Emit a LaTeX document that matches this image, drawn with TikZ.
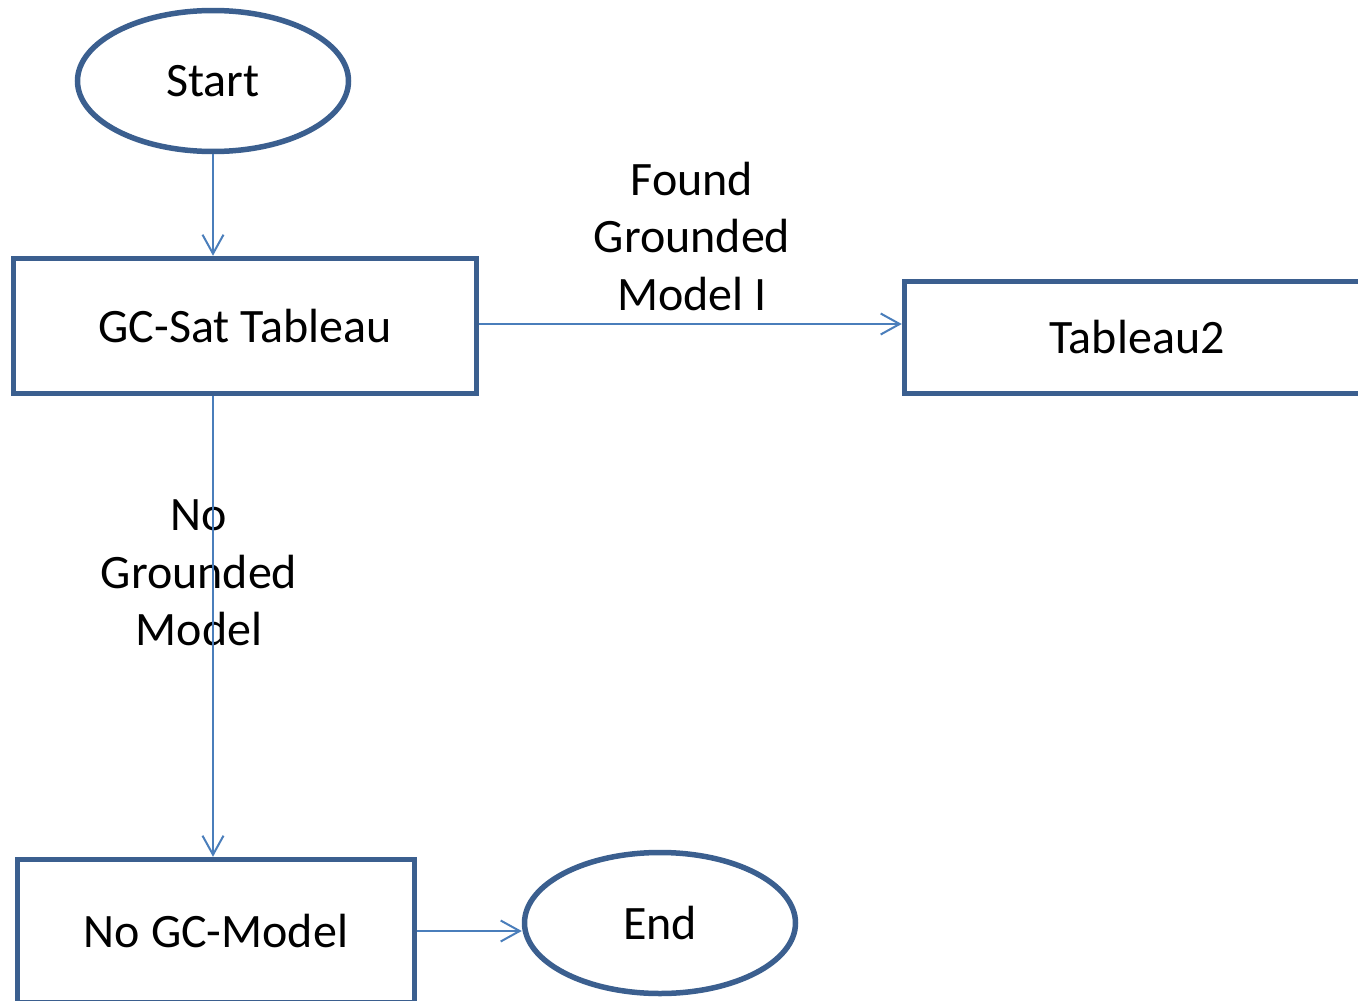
\documentclass[tikz,border=0pt]{standalone}
\usepackage{fontspec}
\setmainfont{Carlito}
\usetikzlibrary{shapes.geometric,arrows.meta}
\definecolor{bordblue}{HTML}{3B5F8F}
\definecolor{arrowblue}{HTML}{4A7EBB}
\begin{document}
\begin{tikzpicture}[x=1pt,y=-1pt,
  every node/.style={font=\fontsize{48}{57.5}\selectfont},
  term/.style={ellipse,draw=bordblue,line width=5.5pt,minimum width=271pt,minimum height=141pt,inner sep=0pt},
  proc/.style={rectangle,draw=bordblue,line width=5.5pt,inner sep=0pt},
  link/.style={draw=arrowblue,line width=2pt,-{Straight Barb[length=19pt,width=21pt]}},
  lbl/.style={align=center,inner sep=0pt}]
\useasboundingbox (0,0) rectangle (1358,1001);
\clip (0,0) rectangle (1358,1001);
\node[term] (start) at (213,81) {Start};
\node[proc,minimum width=463pt,minimum height=135pt] (gc) at (245,326) {GC-Sat Tableau};
\node[proc,minimum width=465pt,minimum height=112pt] (t2) at (1137,337.5) {Tableau2};
\node[proc,minimum width=397pt,minimum height=143pt] (nogc) at (216,931) {No GC-Model};
\node[term] (end) at (660,923) {End};
\node[lbl] (found) at (692,236) {Found\\Grounded\\Model I};
\node[lbl] (nogrounded) at (199,573) {No\\Grounded\\Model};
\coordinate (a) at ([yshift=2pt]gc.east);
\draw[link] (start.south) -- (start.south |- gc.north);
\draw[link] (a) -- (a -| t2.west);
\draw[link] (gc.south -| start.south) -- (nogc.north -| start.south);
\draw[link] (nogc.east) -- (nogc.east -| end.west);
\end{tikzpicture}
\end{document}
